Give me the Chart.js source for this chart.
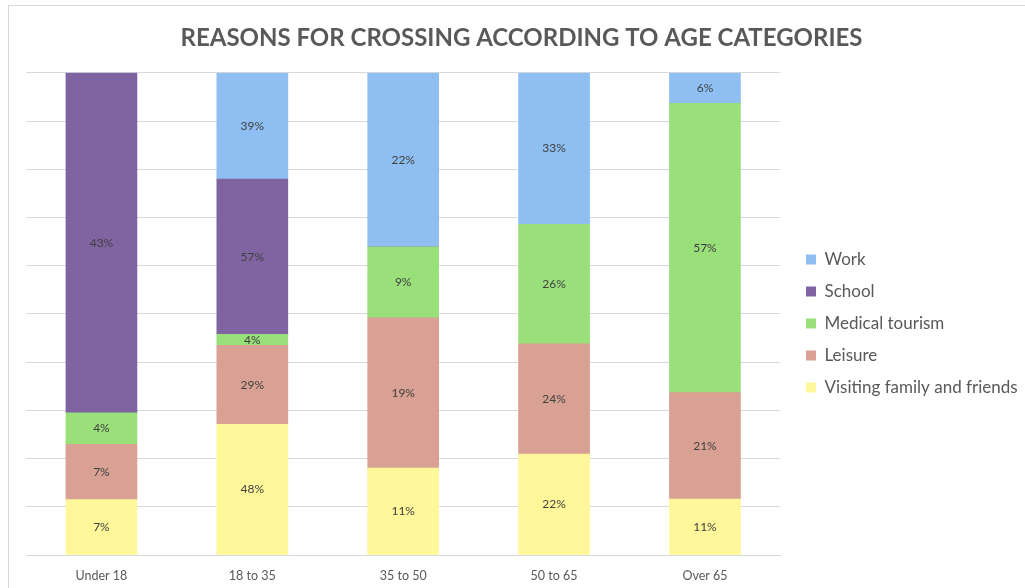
<!DOCTYPE html>
<html>
<head>
<meta charset="utf-8">
<script src="https://cdn.jsdelivr.net/npm/chart.js@4.4.1/dist/chart.umd.min.js"></script>
<style>
  html, body { margin: 0; padding: 0; background: #fff; overflow: hidden; }
  #wrap { position: relative; width: 1025px; height: 588px; }
  #frame { position: absolute; left: 8px; top: 5px; width: 1030px; height: 600px; border: 1px solid #d9d9d9; }
  canvas { position: absolute; left: 0; top: 0; }
</style>
</head>
<body>
<div id="wrap">
  <div id="frame"></div>
  <canvas id="chart" width="1025" height="588"></canvas>
</div>
<script>
const categories = ["Under 18", "18 to 35", "35 to 50", "50 to 65", "Over 65"];

// raw values as printed on the bars (each bar is shown as 100% of its own total)
const visiting = [7, 48, 11, 22, 11];
const leisure = [7, 29, 19, 24, 21];
const medical = [4, 4, 9, 26, 57];
const school = [43, 57, 0, 0, 0];
const work = [0, 39, 22, 33, 6];

const seriesNames = ["Visiting family and friends", "Leisure", "Medical tourism", "School", "Work"];
const seriesColors = ["#fff799", "#d9a193", "#99e07b", "#8064a2", "#8fbff2"];
const seriesValues = [visiting, leisure, medical, school, work];

const totals = categories.map((_, i) => seriesValues.reduce((a, s) => a + s[i], 0));

const datasets = seriesValues.map((vals, k) => ({
  label: seriesNames[k],
  raw: vals,
  data: vals.map((v, i) => v / totals[i] * 100),
  backgroundColor: seriesColors[k],
  borderWidth: 0,
  barThickness: 71
}));

/* value labels in the middle of each segment */
const barLabels = {
  id: "barLabels",
  afterDatasetsDraw(c) {
    const ctx = c.ctx;
    ctx.save();
    ctx.font = "12px Lato";
    ctx.fillStyle = "#404040";
    ctx.textAlign = "center";
    ctx.textBaseline = "middle";
    c.data.datasets.forEach((ds, k) => {
      c.getDatasetMeta(k).data.forEach((bar, i) => {
        const v = ds.raw[i];
        if (!v) return;
        ctx.fillText(v + "%", bar.x, (bar.y + bar.base) / 2);
      });
    });
    ctx.restore();
  }
};

/* nudge the legend to where the original has it */
const legendShift = {
  id: "legendShift",
  afterLayout(c) {
    const l = c.legend, dx = 806 - (l.left + 15), dy = 251 - (l.top + 15);
    l.left += dx; l.right += dx;
    l.top += dy; l.bottom += dy;
  }
};

new Chart(document.getElementById("chart"), {
  type: "bar",
  data: { labels: categories, datasets },
  options: {
    responsive: false,
    animation: false,
    layout: { padding: { left: 26, right: 8, bottom: 0, top: 0 } },
    plugins: {
      title: {
        display: true,
        text: "REASONS FOR CROSSING ACCORDING TO AGE CATEGORIES",
        color: "#595959",
        font: { family: "Lato", size: 24, weight: "bold" },
        padding: { top: 24, bottom: 20 }
      },
      legend: {
        position: "right",
        align: "start",
        reverse: true,
        labels: {
          boxWidth: 10,
          boxHeight: 10,
          padding: 15,
          color: "#595959",
          font: { family: "Lato", size: 17 }
        }
      },
      tooltip: { enabled: false }
    },
    scales: {
      x: {
        stacked: true,
        grid: { display: false, drawTicks: false },
        border: { color: "#d9d9d9" },
        ticks: { color: "#595959", font: { family: "Lato", size: 12.5 }, padding: 13 },
        afterFit: s => { s.height = 33; }
      },
      y: {
        stacked: true,
        min: 0,
        max: 100,
        ticks: { display: false, stepSize: 10 },
        grid: { color: "#d9d9d9", drawTicks: false },
        border: { display: false }
      }
    }
  },
  plugins: [barLabels, legendShift]
});
</script>
</body>
</html>
